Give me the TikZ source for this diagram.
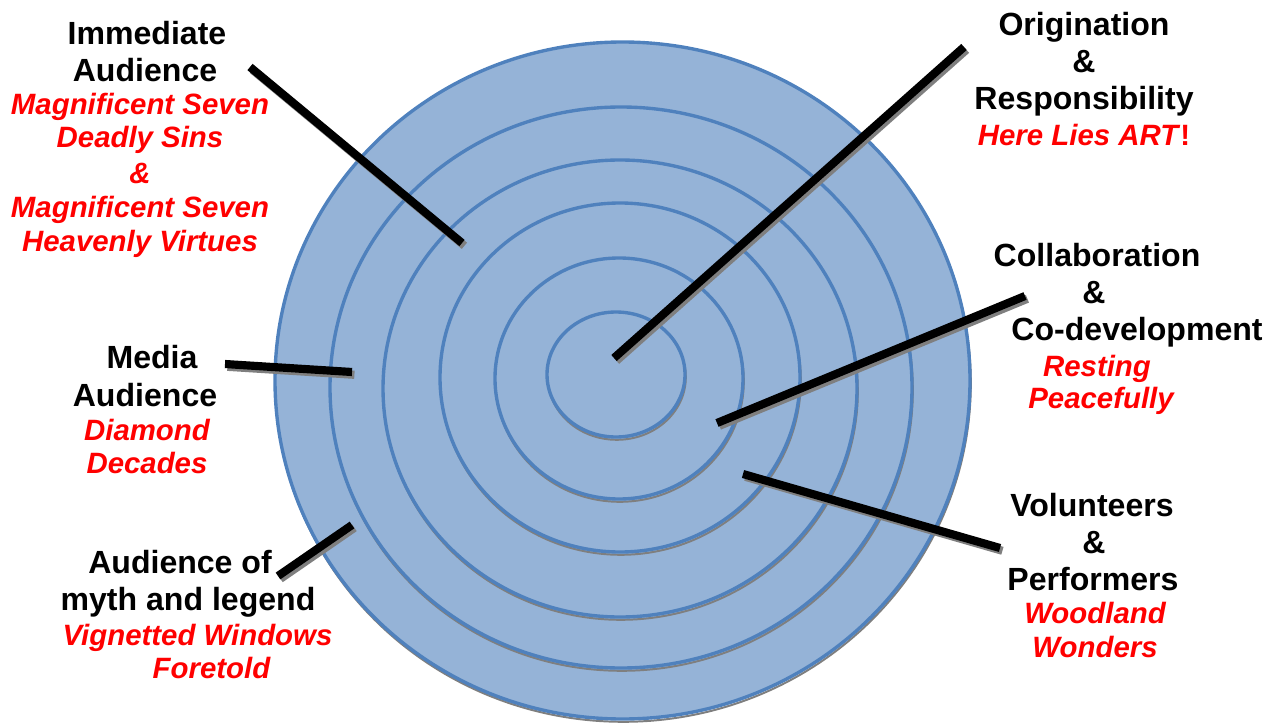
\documentclass[tikz,border=0pt]{standalone}
\usepackage{fontspec}
\setmainfont{Liberation Sans}
\usepackage{tikz}
\definecolor{ringFill}{HTML}{95B3D7}
\definecolor{ringEdge}{HTML}{4F81BD}
\definecolor{ringShade}{HTML}{7F7F7F}
\definecolor{mottoRed}{HTML}{FF0000}

\begin{document}
\begin{tikzpicture}[x=0.025cm,y=-0.025cm,
    every node/.style={inner sep=0pt, anchor=base},
    tag/.style={text=black, font=\fontsize{22.8}{27}\bfseries\selectfont},
    motto/.style={text=mottoRed, font=\fontsize{20.9}{25}\bfseries\itshape\selectfont},
    ring/.style={fill=ringFill, draw=ringEdge, line width=2.4pt},
    ringshade/.style={draw=ringShade, line width=1.4pt, transform canvas={xshift=0.02cm,yshift=-0.07cm}},
    pointer/.style={line width=5.8pt, black},
    pointershade/.style={line width=5.8pt, ringShade, transform canvas={xshift=0.06cm,yshift=-0.07cm}}]
  \useasboundingbox (0,0) rectangle (1279,722);

  % target rings, outside in
  \draw[ringshade] (622.5,380.5) ellipse [x radius=347.5, y radius=338.5];
  \draw[ring] (622.5,380.5) ellipse [x radius=347.5, y radius=338.5];
  \draw[ringshade] (621,387.5) ellipse [x radius=291, y radius=280.5];
  \draw[ring] (621,387.5) ellipse [x radius=291, y radius=280.5];
  \draw[ringshade] (620,388.5) ellipse [x radius=237, y radius=228.5];
  \draw[ring] (620,388.5) ellipse [x radius=237, y radius=228.5];
  \draw[ringshade] (620,377.5) ellipse [x radius=180, y radius=174.5];
  \draw[ring] (620,377.5) ellipse [x radius=180, y radius=174.5];
  \draw[ringshade] (619,378.5) ellipse [x radius=124, y radius=120.5];
  \draw[ring] (619,378.5) ellipse [x radius=124, y radius=120.5];
  \draw[ringshade] (616,374.5) ellipse [x radius=69, y radius=62.5];
  \draw[ring] (616,374.5) ellipse [x radius=69, y radius=62.5];

  % pointer ends
  \coordinate (immA) at (250,67);
  \coordinate (immB) at (462,243);
  \coordinate (origA) at (964,47);
  \coordinate (origB) at (614,358);
  \coordinate (mediaA) at (225,364);
  \coordinate (mediaB) at (352,372);
  \coordinate (collabA) at (1025,296);
  \coordinate (collabB) at (717,423);
  \coordinate (volA) at (743,474);
  \coordinate (volB) at (1000,548);
  \coordinate (mythA) at (278,576);
  \coordinate (mythB) at (352,525);

  \draw[pointershade] (immA) -- (immB);
  \draw[pointer] (immA) -- (immB);
  \draw[pointershade] (origA) -- (origB);
  \draw[pointer] (origA) -- (origB);
  \draw[pointershade] (mediaA) -- (mediaB);
  \draw[pointer] (mediaA) -- (mediaB);
  \draw[pointershade] (collabA) -- (collabB);
  \draw[pointer] (collabA) -- (collabB);
  \draw[pointershade] (volA) -- (volB);
  \draw[pointer] (volA) -- (volB);
  \draw[pointershade] (mythA) -- (mythB);
  \draw[pointer] (mythA) -- (mythB);

  % labels
  \node[tag] (imm1) at (147,45) {Immediate};
  \node[tag] (imm2) at (145,82) {Audience};
  \node[motto] (imm3) at (140,115) {Magnificent Seven};
  \node[motto] (imm4) at (140,148) {Deadly Sins};
  \node[motto] (imm5) at (140,183) {\&};
  \node[motto] (imm6) at (140,217) {Magnificent Seven};
  \node[motto] (imm7) at (140,251) {Heavenly Virtues};

  \node[tag] (orig1) at (1084,36) {Origination};
  \node[tag] (orig2) at (1084,73) {\&};
  \node[tag] (orig3) at (1084,110) {Responsibility};
  \node[motto] (orig4) at (1084,146) {Here Lies ART\textup{!}};

  \node[tag] (collab1) at (1097,266) {Collaboration};
  \node[tag] (collab2) at (1094,303) {\&};
  \node[tag] (collab3) at (1137,340) {Co-development};
  \node[motto] (collab4) at (1097,376) {Resting};
  \node[motto] (collab5) at (1101,408) {Peacefully};

  \node[tag] (media1) at (152,368) {Media};
  \node[tag] (media2) at (145,406) {Audience};
  \node[motto] (media3) at (147,440) {Diamond};
  \node[motto] (media4) at (147,473) {Decades};

  \node[tag] (myth1) at (180,573) {Audience of};
  \node[tag] (myth2) at (188,610) {myth and legend};
  \node[motto] (myth3) at (197.5,645) {Vignetted Windows};
  \node[motto] (myth4) at (211.5,678) {Foretold};

  \node[tag] (vol1) at (1092,516) {Volunteers};
  \node[tag] (vol2) at (1094,553) {\&};
  \node[tag] (vol3) at (1093,590) {Performers};
  \node[motto] (vol4) at (1095,623) {Woodland};
  \node[motto] (vol5) at (1095,657) {Wonders};
\end{tikzpicture}
\end{document}
